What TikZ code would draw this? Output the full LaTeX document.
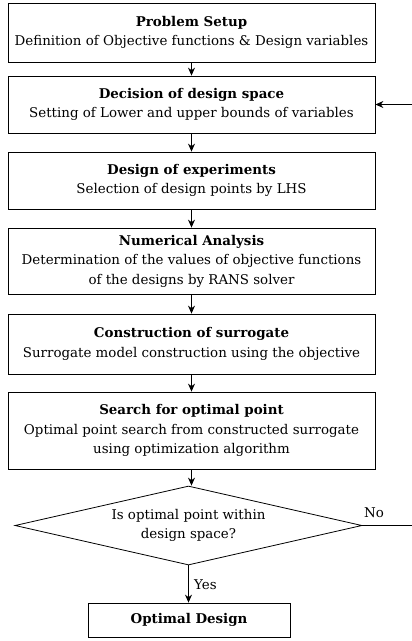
\documentclass[tikz,border=0pt]{standalone}
\usepackage{fontspec}
\setmainfont{DejaVu Serif}
\usetikzlibrary{shapes.geometric,arrows.meta}
\begin{document}
\begin{tikzpicture}[x=1pt,y=-1pt,
  txt/.style={font=\fontsize{13.4}{19.5}\selectfont},
  box/.style={draw, line width=0.8pt, rectangle, minimum width=367pt, align=center, inner sep=0pt, txt},
  dec/.style={draw, line width=0.8pt, diamond, aspect=4.4, minimum width=347pt, minimum height=79pt, inner sep=0pt, align=center, txt},
  arr/.style={-{Stealth[length=8pt,width=7pt]}, line width=0.8pt},
  lbl/.style={txt, inner sep=0pt}]
\useasboundingbox (0,0) rectangle (412,641);
\node[box, minimum height=59pt] (b1) at (191.5,32.5) {\textbf{Problem Setup}\\Definition of Objective functions \& Design variables};
\node[box, minimum height=57pt] (b2) at (191.5,104.5) {\textbf{Decision of design space}\\Setting of Lower and upper bounds of variables};
\node[box, minimum height=57pt] (b3) at (191.5,180.5) {\textbf{Design of experiments}\\Selection of design points by LHS};
\node[box, minimum height=66pt] (b4) at (191.5,261) {\textbf{Numerical Analysis}\\Determination of the values of objective functions\\of the designs by RANS solver};
\node[box, minimum height=60pt] (b5) at (191.5,344) {\textbf{Construction of surrogate}\\Surrogate model construction using the objective};
\node[box, minimum height=77pt] (b6) at (191.5,430.5) {\textbf{Search for optimal point}\\Optimal point search from constructed surrogate\\using optimization algorithm};
\node[dec] (d) at (188.5,525.5) {Is optimal point within\\design space?};
\node[box, minimum width=202pt, minimum height=34pt] (od) at (189,620) {\textbf{Optimal Design}};
\coordinate (noend) at (412,525.5);
\coordinate (inend) at (412,104.5);
\draw[arr] (b1) -- (b2);
\draw[arr] (b2) -- (b3);
\draw[arr] (b3) -- (b4);
\draw[arr] (b4) -- (b5);
\draw[arr] (b5) -- (b6);
\draw[arr] (b6.south) -- (b6.south |- d.north);
\draw[arr] (d.south) -- (d.south |- od.north);
\draw[line width=0.8pt] (d.east) -- (noend);
\draw[arr] (inend) -- (b2.east);
\node[lbl, anchor=base west] (no) at (364,517) {No};
\node[lbl, anchor=base west] (yes) at (194,589) {Yes};
\end{tikzpicture}
\end{document}
